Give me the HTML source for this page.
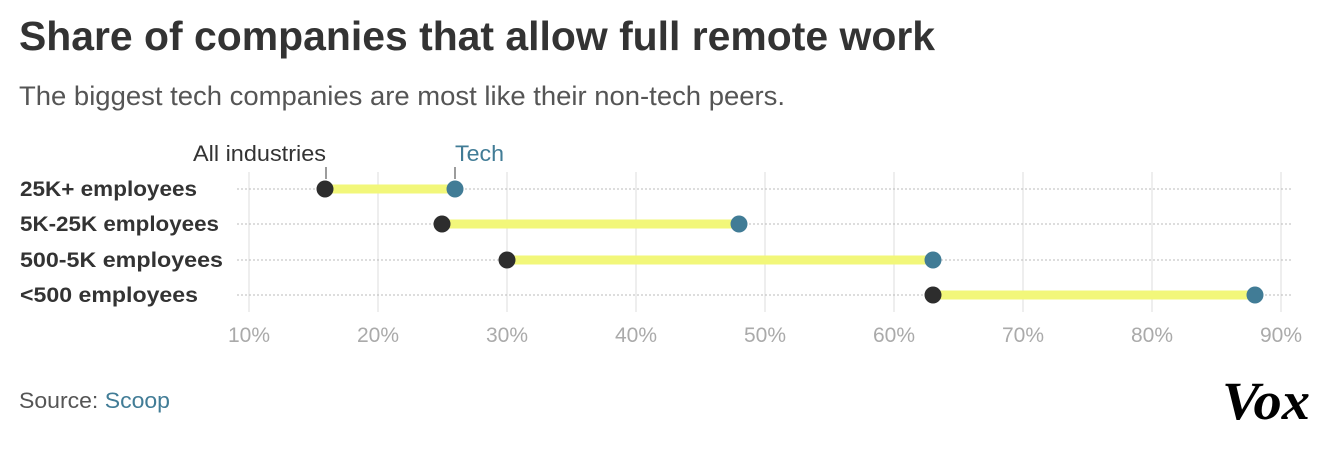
<!DOCTYPE html>
<html><head><meta charset="utf-8"><style>
body{margin:0;background:#fff;width:1325px;height:460px;overflow:hidden;font-family:"Liberation Sans",Arial,sans-serif}
</style></head><body>
<svg width="1325" height="460" xmlns="http://www.w3.org/2000/svg" font-family="Liberation Sans, Arial, sans-serif">
<text x="19" y="50" font-size="41" font-weight="bold" fill="#333" textLength="916" lengthAdjust="spacingAndGlyphs">Share of companies that allow full remote work</text>
<text x="19" y="105" font-size="27" fill="#555" textLength="766" lengthAdjust="spacingAndGlyphs">The biggest tech companies are most like their non-tech peers.</text>
<g stroke="#ddd" stroke-width="1">
<line x1="249" y1="172" x2="249" y2="312"/><line x1="378" y1="172" x2="378" y2="312"/><line x1="507" y1="172" x2="507" y2="312"/><line x1="636" y1="172" x2="636" y2="312"/><line x1="765" y1="172" x2="765" y2="312"/><line x1="894" y1="172" x2="894" y2="312"/><line x1="1023" y1="172" x2="1023" y2="312"/><line x1="1152" y1="172" x2="1152" y2="312"/><line x1="1281" y1="172" x2="1281" y2="312"/>
</g>
<g stroke="#bbb" stroke-width="1" stroke-dasharray="2,2">
<line x1="237" y1="189" x2="1293" y2="189"/><line x1="237" y1="224" x2="1293" y2="224"/><line x1="237" y1="260" x2="1293" y2="260"/><line x1="237" y1="295" x2="1293" y2="295"/>
</g>
<g stroke="#f2f77a" stroke-width="9">
<line x1="325" y1="189" x2="455" y2="189"/><line x1="442" y1="224" x2="739" y2="224"/><line x1="507" y1="260" x2="933" y2="260"/><line x1="933" y1="295" x2="1255" y2="295"/>
</g>
<g fill="#2d2d2d"><circle cx="325" cy="189" r="8.5"/><circle cx="442" cy="224" r="8.5"/><circle cx="507" cy="260" r="8.5"/><circle cx="933" cy="295" r="8.5"/></g>
<g fill="#417c96"><circle cx="455" cy="189" r="8.5"/><circle cx="739" cy="224" r="8.5"/><circle cx="933" cy="260" r="8.5"/><circle cx="1255" cy="295" r="8.5"/></g>
<line x1="326" y1="167" x2="326" y2="179" stroke="#666" stroke-width="1.3"/>
<line x1="455" y1="167" x2="455" y2="179" stroke="#666" stroke-width="1.3"/>
<text x="326" y="161" font-size="22" fill="#333" text-anchor="end" textLength="133" lengthAdjust="spacingAndGlyphs">All industries</text>
<text x="455" y="161" font-size="22" fill="#417c96" textLength="49" lengthAdjust="spacingAndGlyphs">Tech</text>
<g font-size="21" fill="#333" font-weight="bold">
<text x="20" y="196" textLength="177" lengthAdjust="spacingAndGlyphs">25K+ employees</text><text x="20" y="231" textLength="199" lengthAdjust="spacingAndGlyphs">5K-25K employees</text><text x="20" y="267" textLength="203" lengthAdjust="spacingAndGlyphs">500-5K employees</text><text x="20" y="302" textLength="178" lengthAdjust="spacingAndGlyphs">&lt;500 employees</text>
</g>
<g font-size="21" fill="#aaa" text-anchor="middle">
<text x="249" y="342">10%</text><text x="378" y="342">20%</text><text x="507" y="342">30%</text><text x="636" y="342">40%</text><text x="765" y="342">50%</text><text x="894" y="342">60%</text><text x="1023" y="342">70%</text><text x="1152" y="342">80%</text><text x="1281" y="342">90%</text>
</g>
<text x="19" y="408" font-size="22" fill="#555" textLength="151" lengthAdjust="spacingAndGlyphs">Source: <tspan fill="#417c96">Scoop</tspan></text>
<text x="1222" y="419" font-size="54" font-family="Liberation Serif, serif" font-weight="bold" font-style="italic" fill="#000" textLength="88" lengthAdjust="spacingAndGlyphs">Vox</text>
</svg>
</body></html>
